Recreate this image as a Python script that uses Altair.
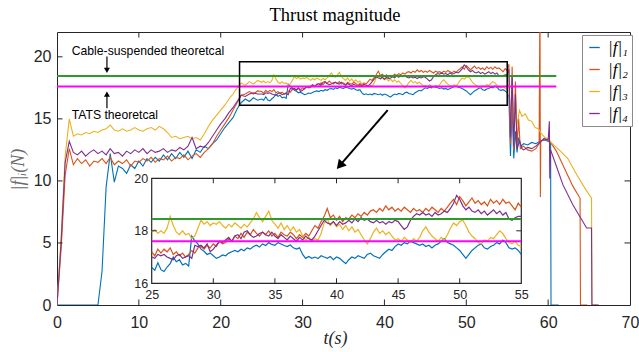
import altair as alt
import pandas as pd

# ---------------- data ----------------
SERIES = ["|f|₁", "|f|₂", "|f|₃", "|f|₄"]
COLORS = ["#0072BD", "#D95319", "#EDB120", "#7E2F8E"]

T_EARLY = [i * 0.5 for i in range(50)]          # 0 .. 24.5 s
T_MID = [25 + i * 0.25 for i in range(121)]      # 25 .. 55 s

F1_EARLY = [0, 0, 0, 0, 0, 0, 0, 0, 0, 0, 0,
            2.7, 9.5, 12.2, 9.9, 11.2, 11.0, 10.6, 11.3, 11.0, 11.6,
            11.2, 11.8, 11.5, 11.9, 11.6, 12.1, 11.7, 12.2, 11.8, 12.3,
            11.9, 12.4, 11.8, 12.5, 12.3, 12.8, 12.6, 13.0, 13.3, 13.8,
            14.3, 14.7, 15.1, 15.8, 16.3, 16.6, 16.4, 16.7, 16.5]
F2_EARLY = [0, 4.5, 10.5, 12.6, 11.3, 11.8, 11.4, 11.7, 11.2, 11.6,
            11.5, 11.8, 11.4, 11.9, 11.3, 11.6, 11.4, 11.7, 11.2, 11.6,
            11.5, 11.8, 11.6, 11.9, 11.5, 11.8, 11.7, 12.0, 11.6, 11.9,
            11.8, 12.1, 11.7, 12.0, 12.2, 11.9, 12.3, 12.6, 13.0, 13.6,
            14.1, 14.6, 15.1, 15.7, 16.3, 16.9, 17.0, 17.2, 17.0, 17.25]
F3_EARLY = [0, 5.5, 12.0, 15.0, 13.6, 13.8, 13.7, 13.9, 13.8, 14.0,
            13.9, 14.1, 14.2, 14.5, 14.1, 14.0, 14.2, 14.0, 14.1, 14.3,
            14.1, 14.0, 14.2, 14.3, 14.1, 14.4, 14.2, 13.9, 13.5, 13.6,
            13.4, 13.5, 13.6, 13.4, 13.5, 13.3, 13.8, 14.4, 14.9, 15.3,
            15.7, 16.1, 16.6, 17.0, 17.5, 17.9, 17.7, 18.0, 17.8, 18.1]
F4_EARLY = [0, 5.0, 11.5, 13.2, 12.3, 12.1, 12.4, 12.0, 12.3, 12.5,
            12.2, 12.4, 12.1, 12.6, 12.2, 12.3, 12.0, 12.4, 12.2, 12.5,
            12.3, 12.6, 12.2, 12.5, 12.3, 12.4, 12.6, 12.3, 12.5, 12.4,
            12.7, 12.5, 12.8, 13.5, 12.6, 12.8, 12.7, 13.1, 13.6, 14.1,
            14.6, 15.0, 15.5, 15.9, 16.4, 16.9, 16.8, 17.0, 17.1, 17.0]

F1_MID = [16.60, 16.50, 16.78, 16.52, 16.45, 16.62, 16.75, 17.00,
          16.82, 16.90, 16.70, 16.76, 16.66, 17.80, 17.62, 17.50,
          17.30, 17.22, 17.10, 17.15, 17.05, 16.95, 17.00, 17.08,
          17.05, 17.15, 17.20, 17.25, 17.20, 17.30, 17.24, 17.35,
          17.30, 17.40, 17.45, 17.38, 17.50, 17.44, 17.55, 17.48,
          17.45, 17.55, 17.50, 17.44, 17.40, 17.46, 17.35, 17.30,
          17.35, 17.10, 16.95, 17.02, 16.95, 17.00, 16.94, 17.05,
          17.00, 16.95, 17.02, 16.90, 17.00, 16.95, 16.85, 16.75,
          16.90, 17.00, 16.95, 17.05, 17.00, 16.95, 17.10, 17.15,
          17.05, 17.00, 16.95, 17.10, 17.20, 17.30, 17.25, 17.40,
          17.50, 17.45, 17.55, 17.50, 17.60, 17.55, 17.50, 17.45,
          17.50, 17.40, 17.45, 17.35, 17.45, 17.50, 17.60, 17.70,
          17.55, 17.50, 17.45, 17.35, 17.25, 17.10, 16.95, 17.10,
          17.25, 17.35, 17.45, 17.50, 17.35, 17.30, 17.40, 17.45,
          17.55, 17.50, 17.65, 17.55, 17.35, 17.30, 17.35, 17.25,
          17.10]
F2_MID = [17.20, 17.05, 17.30, 17.15, 17.30, 17.20, 17.35, 17.10,
          17.20, 17.05, 17.15, 17.00, 17.10, 17.25, 17.15, 17.35,
          17.40, 17.30, 17.45, 17.35, 17.50, 17.40, 17.60, 17.50,
          17.55, 17.70, 17.60, 17.80, 17.70, 17.90, 17.75, 17.95,
          17.85, 18.05, 17.90, 17.80, 17.95, 17.85, 18.00, 17.80,
          17.90, 17.75, 17.95, 17.85, 17.80, 17.95, 17.85, 17.70,
          17.85, 17.75, 17.90, 17.80, 18.00, 18.20, 18.10, 18.35,
          18.55, 18.85, 18.50, 18.60, 18.40, 18.55, 18.35, 18.50,
          18.45, 18.60, 18.50, 18.65, 18.55, 18.70, 18.60, 18.75,
          18.80, 18.70, 18.85, 18.75, 18.95, 18.80, 18.90, 18.75,
          18.85, 18.75, 18.90, 18.80, 18.70, 18.85, 18.75, 18.80,
          18.70, 18.85, 18.75, 18.90, 18.80, 18.70, 18.85, 18.75,
          18.90, 19.05, 19.20, 19.00, 19.30, 19.15, 18.95, 19.10,
          19.25, 19.05, 19.15, 19.00, 19.10, 18.95, 19.20, 19.05,
          19.15, 19.00, 19.20, 19.05, 19.10, 18.95, 18.80, 19.05,
          18.90]
F3_MID = [17.95, 18.05, 17.90, 18.00, 17.90, 18.10, 18.55, 18.20,
          17.95, 17.85, 18.00, 17.85, 17.90, 17.70, 17.80, 18.10,
          18.40, 18.25, 18.35, 18.20, 18.30, 18.25, 18.35, 18.20,
          18.10, 18.25, 18.15, 18.30, 18.20, 18.10, 18.25, 18.15,
          18.30, 18.45, 18.70, 18.50, 18.35, 18.55, 18.75, 18.40,
          18.25, 18.10, 18.30, 18.05, 18.20, 18.00, 18.15, 17.95,
          18.05, 17.80, 17.65, 17.75, 17.60, 17.70, 17.65, 17.90,
          18.30, 18.45, 18.20, 18.35, 18.15, 18.25, 18.05, 18.20,
          18.00, 18.15, 17.95, 18.05, 17.85, 17.65, 17.50, 17.70,
          17.95, 18.10, 17.90, 18.00, 17.85, 17.95, 17.80, 17.65,
          17.70, 17.60, 17.75, 17.65, 17.55, 17.70, 17.60, 17.75,
          18.00, 18.15, 17.95, 17.80, 17.70, 17.60, 17.75, 17.65,
          17.85, 18.10, 18.30, 18.20, 18.35, 18.40, 18.20, 17.95,
          17.80, 17.70, 17.55, 17.50, 17.65, 17.60, 17.75, 17.70,
          17.85, 18.00, 17.90, 17.70, 17.55, 17.50, 17.60, 17.45,
          17.40]
F4_MID = [17.00, 16.95, 17.10, 17.05, 17.10, 17.00, 16.95, 16.90,
          17.05, 17.10, 16.95, 17.00, 17.05, 16.95, 17.45, 17.40,
          17.45, 17.35, 17.50, 17.20, 17.30, 17.45, 17.60, 17.55,
          17.65, 17.75, 17.60, 17.80, 17.85, 17.70, 17.95, 18.00,
          17.85, 17.75, 17.80, 17.90, 17.95, 17.85, 17.80, 17.95,
          17.80, 17.70, 17.85, 17.75, 17.65, 17.80, 17.70, 17.60,
          17.75, 17.65, 17.80, 17.70, 17.65, 17.80, 18.00, 18.20,
          18.40, 18.30, 18.25, 18.35, 18.20, 18.35, 18.25, 18.30,
          18.40, 18.30, 18.45, 18.35, 18.50, 18.40, 18.45, 18.35,
          18.30, 18.40, 18.30, 18.35, 18.25, 18.35, 18.30, 18.40,
          18.35, 18.20, 18.05, 18.15, 18.40, 18.55, 18.65, 18.60,
          18.70, 18.60, 18.65, 18.55, 18.70, 18.60, 18.65, 18.75,
          18.70, 18.85, 19.05, 19.35, 19.20, 18.95, 18.80, 18.90,
          18.75, 18.70, 18.80, 18.65, 18.75, 18.60, 18.70, 18.80,
          18.65, 18.75, 18.60, 18.70, 18.45, 18.40, 18.50, 18.55,
          18.55]

F1_TAIL_T = [55.2, 55.4, 55.6, 55.8, 56.0, 56.2, 56.4, 56.7, 57.0, 57.5, 58.0,
             58.5, 59.0, 59.5, 60.0, 60.3, 60.35, 61.3]
F1_TAIL = [16.8, 12.0, 16.2, 11.8, 14.0, 12.3, 13.5, 12.8, 13.0, 12.9, 13.1,
           13.0, 13.2, 13.3, 13.2, 13.0, 0, 0]
F2_TAIL_T = [55.2, 55.4, 55.6, 55.8, 56.0, 56.2, 56.4, 56.6, 57.0, 57.5, 58.0,
             58.5, 58.9, 59.0, 59.05, 59.1, 59.5, 60.0, 60.4, 61.0, 62.0, 63.0,
             63.9, 63.95, 64.8]
F2_TAIL = [19.4, 13.0, 19.2, 12.5, 18.0, 12.8, 15.0, 12.6, 12.8, 12.5, 12.4,
           12.6, 13.0, 25.0, 8.7, 13.2, 13.4, 13.3, 13.0, 12.4, 11.0, 9.6,
           8.6, 0, 0]
F3_TAIL_T = [55.2, 55.4, 55.6, 55.8, 56.0, 56.2, 56.5, 56.8, 57.2, 57.6, 58.0,
             58.4, 58.8, 59.2, 59.6, 60.0, 60.5, 61.5, 62.4, 63.5, 64.5, 65.3,
             65.35, 66.0]
F3_TAIL = [17.8, 14.0, 17.5, 13.5, 16.5, 14.5, 15.7, 15.2, 15.4, 14.9, 14.8,
           14.3, 14.2, 13.8, 13.5, 13.4, 13.0, 12.4, 11.8, 10.5, 9.4, 8.6,
           0, 0]
F4_TAIL_T = [55.2, 55.4, 55.6, 55.8, 56.0, 56.2, 56.5, 56.8, 57.0, 57.5, 58.0,
             58.5, 59.0, 59.5, 60.0, 60.15, 60.2, 60.3, 61.0, 61.8, 63.0, 64.7,
             65.3, 65.35, 66.2]
F4_TAIL = [19.0, 13.5, 18.5, 12.8, 17.0, 12.6, 13.2, 12.6, 12.5, 12.7, 12.6,
           12.8, 13.1, 13.4, 13.3, 14.8, 10.2, 12.5, 11.2, 9.7, 8.1, 6.2,
           6.2, 0, 0]

REF_NAMES = ["Cable-suspended theoretcal", "TATS theoretcal"]
REF_Y = [18.45, 17.6]
REF_COLORS = ["#2E9A2E", "#FF00FF"]
REF_X = [0, 61]

ZOOM_X = [22.3, 55.0]
ZOOM_Y = [16.1, 19.6]
INSET_X = [25, 55]
INSET_Y = [16, 20]

MAIN_XTICKS = [0, 10, 20, 30, 40, 50, 60, 70]
MAIN_YTICKS = [0, 5, 10, 15, 20]
INSET_XTICKS = [25, 30, 35, 40, 45, 50, 55]
INSET_YTICKS = [16, 18, 20]

ANN_TEXT = ["Cable-suspended theoretcal", "TATS theoretcal"]
ANN_X = [1.8, 1.8]
ANN_Y = [20.48, 15.32]
ANN_ARROW_X = 6.1
CABLE_ARROW_Y = [20.02, 18.91]
TATS_ARROW_Y = [15.86, 17.0]
BIG_ARROW_X = [40.4, 34.67]
BIG_ARROW_Y = [15.7, 11.33]

# ---------------- build table ----------------
rows = []
for name, early, mid, tt, tv in [
    (SERIES[0], F1_EARLY, F1_MID, F1_TAIL_T, F1_TAIL),
    (SERIES[1], F2_EARLY, F2_MID, F2_TAIL_T, F2_TAIL),
    (SERIES[2], F3_EARLY, F3_MID, F3_TAIL_T, F3_TAIL),
    (SERIES[3], F4_EARLY, F4_MID, F4_TAIL_T, F4_TAIL),
]:
    for t, v in zip(T_EARLY, early):
        rows.append({"s": name, "t": t, "v": v})
    for t, v in zip(T_MID, mid):
        rows.append({"s": name, "t": t, "v": v})
    for t, v in zip(tt, tv):
        rows.append({"s": name, "t": t, "v": v})
df = pd.DataFrame(rows)
df_mid = df[(df.t >= 25) & (df.t <= 55)]

# ---------------- layout ----------------
W, H = 573, 273
AX = "#262626"
SANS = "Liberation Sans"
SERIF = "Liberation Serif"
IN_L, IN_R, IN_T, IN_B = 94.7, 464.3, 146.3, 251.3

xs_main = alt.Scale(domain=[0, 70], nice=False, zero=False)
ys_main = alt.Scale(domain=[0, 22], nice=False, zero=False)
xs_in = alt.Scale(domain=[25, 55], range=[IN_L, IN_R], nice=False, zero=False)
ys_in = alt.Scale(domain=[16, 20], range=[IN_B, IN_T], nice=False, zero=False)

color = alt.Color(
    "s:N",
    scale=alt.Scale(domain=SERIES, range=COLORS),
    legend=alt.Legend(
        title=None, orient="none", legendX=525, legendY=3, direction="vertical",
        fillColor="white", strokeColor="#8c8c8c", padding=4,
        symbolType="stroke", symbolSize=110, symbolStrokeWidth=1.3,
        labelFont=SERIF, labelFontSize=17, labelFontStyle="italic",
        labelColor="#000000", rowPadding=4, labelOffset=5,
    ),
)

main_lines = alt.Chart(df).mark_line(clip=True, strokeWidth=1.1).encode(
    x=alt.X("t:Q", scale=xs_main, axis=alt.Axis(
        values=MAIN_XTICKS, ticks=False, domain=False, grid=False,
        labelFont=SANS, labelFontSize=16, labelColor=AX, labelPadding=9,
        labelFlush=False, labelOverlap=False,
        title="t(s)", titleFont=SERIF, titleFontSize=18, titleFontStyle="italic",
        titleFontWeight="normal", titleColor=AX, titleX=278, titleY=33,
        titleBaseline="middle", titleAlign="center")),
    y=alt.Y("v:Q", scale=ys_main, axis=alt.Axis(
        values=MAIN_YTICKS, ticks=False, domain=False, grid=False,
        labelFont=SANS, labelFontSize=16, labelColor=AX, labelPadding=6,
        labelOverlap=False,
        title="|f|ᵢ(N)", titleFont=SERIF, titleFontSize=18, titleFontStyle="italic",
        titleFontWeight="normal", titleColor="#6a6a6a", titleAngle=270,
        titleX=-39, titleY=137, titleBaseline="middle", titleAlign="center")),
    color=color,
)

ref_df = pd.DataFrame({"name": REF_NAMES, "y": REF_Y, "x1": [REF_X[0]] * 2, "x2": [REF_X[1]] * 2})
ref_layers = []
ref_in_layers = []
for nm, col in zip(REF_NAMES, REF_COLORS):
    ref_layers.append(
        alt.Chart(ref_df).transform_filter(alt.datum.name == nm)
        .mark_rule(color=col, strokeWidth=2)
        .encode(x=alt.X("x1:Q", scale=xs_main, axis=None), x2="x2:Q",
                y=alt.Y("y:Q", scale=ys_main, axis=None))
    )
    ref_in_layers.append(
        alt.Chart(ref_df).transform_filter(alt.datum.name == nm)
        .transform_calculate(a=str(INSET_X[0]), b=str(INSET_X[1]))
        .mark_rule(color=col, strokeWidth=2)
        .encode(x=alt.X("a:Q", scale=xs_in, axis=None), x2="b:Q",
                y=alt.Y("y:Q", scale=ys_in, axis=None))
    )

zoom_box = alt.Chart(pd.DataFrame({"x1": [ZOOM_X[0]], "x2": [ZOOM_X[1]],
                                    "y1": [ZOOM_Y[0]], "y2": [ZOOM_Y[1]]})).mark_rect(
    fillOpacity=0, stroke="black", strokeWidth=1.5).encode(
    x=alt.X("x1:Q", scale=xs_main, axis=None), x2="x2:Q",
    y=alt.Y("y1:Q", scale=ys_main, axis=None), y2="y2:Q")

ann_text = alt.Chart(pd.DataFrame({"txt": ANN_TEXT, "x": ANN_X, "y": ANN_Y})).mark_text(
    align="left", baseline="middle", font=SANS, fontSize=12.2, color="black").encode(
    x=alt.X("x:Q", scale=xs_main, axis=None), y=alt.Y("y:Q", scale=ys_main, axis=None),
    text="txt:N")

small_arrows = alt.Chart(pd.DataFrame({
    "x": [ANN_ARROW_X, ANN_ARROW_X],
    "y1": [CABLE_ARROW_Y[0], TATS_ARROW_Y[0]],
    "y2": [CABLE_ARROW_Y[1], TATS_ARROW_Y[1]]})).mark_rule(color="black", strokeWidth=1.2).encode(
    x=alt.X("x:Q", scale=xs_main, axis=None),
    y=alt.Y("y1:Q", scale=ys_main, axis=None), y2="y2:Q")
head_down = alt.Chart(pd.DataFrame({"x": [ANN_ARROW_X], "y": [CABLE_ARROW_Y[1]]})).mark_point(
    shape="triangle-down", filled=True, color="black", size=36, opacity=1).encode(
    x=alt.X("x:Q", scale=xs_main, axis=None), y=alt.Y("y:Q", scale=ys_main, axis=None))
head_up = alt.Chart(pd.DataFrame({"x": [ANN_ARROW_X], "y": [TATS_ARROW_Y[1]]})).mark_point(
    shape="triangle-up", filled=True, color="black", size=36, opacity=1).encode(
    x=alt.X("x:Q", scale=xs_main, axis=None), y=alt.Y("y:Q", scale=ys_main, axis=None))

big_arrow = alt.Chart(pd.DataFrame({"x1": [BIG_ARROW_X[0]], "x2": [BIG_ARROW_X[1]],
                                     "y1": [BIG_ARROW_Y[0]], "y2": [BIG_ARROW_Y[1]]})).mark_rule(
    color="black", strokeWidth=2).encode(
    x=alt.X("x1:Q", scale=xs_main, axis=None), x2="x2:Q",
    y=alt.Y("y1:Q", scale=ys_main, axis=None), y2="y2:Q")
big_head = alt.Chart(pd.DataFrame({"x": [BIG_ARROW_X[1]], "y": [BIG_ARROW_Y[1]]})).mark_point(
    shape="triangle", filled=True, color="black", size=110, angle=221, opacity=1).encode(
    x=alt.X("x:Q", scale=xs_main, axis=None), y=alt.Y("y:Q", scale=ys_main, axis=None))


def xticks(vals, scale, y1, y2):
    return alt.Chart(pd.DataFrame({"v": vals})).mark_rule(color=AX, strokeWidth=1).encode(
        x=alt.X("v:Q", scale=scale, axis=None), y=alt.value(y1), y2=alt.value(y2))


def yticks(vals, scale, x1, x2):
    return alt.Chart(pd.DataFrame({"v": vals})).mark_rule(color=AX, strokeWidth=1).encode(
        y=alt.Y("v:Q", scale=scale, axis=None), x=alt.value(x1), x2=alt.value(x2))


main_ticks = [
    xticks(MAIN_XTICKS[1:-1], xs_main, H, H - 5.5),
    xticks(MAIN_XTICKS[1:-1], xs_main, 0, 5.5),
    yticks(MAIN_YTICKS[1:], ys_main, 0, 5.5),
    yticks(MAIN_YTICKS[1:], ys_main, W, W - 5.5),
]

inset_bg = alt.Chart(pd.DataFrame({"x1": [INSET_X[0]], "x2": [INSET_X[1]],
                                    "y1": [INSET_Y[0]], "y2": [INSET_Y[1]]})).mark_rect(
    fill="white", stroke=AX, strokeWidth=1.2).encode(
    x=alt.X("x1:Q", scale=xs_in, axis=None), x2="x2:Q",
    y=alt.Y("y1:Q", scale=ys_in, axis=None), y2="y2:Q")

inset_lines = alt.Chart(df_mid).mark_line(strokeWidth=1.2).encode(
    x=alt.X("t:Q", scale=xs_in, axis=alt.Axis(
        orient="bottom", offset=-(H - IN_B), values=INSET_XTICKS, ticks=False,
        domain=False, grid=False, labelFont=SANS, labelFontSize=12.5, labelColor=AX,
        labelPadding=5, labelFlush=False, labelOverlap=False, title="")),
    y=alt.Y("v:Q", scale=ys_in, axis=alt.Axis(
        orient="left", offset=-IN_L, values=INSET_YTICKS, ticks=False,
        domain=False, grid=False, labelFont=SANS, labelFontSize=12.5, labelColor=AX,
        labelPadding=4, labelOverlap=False, title="")),
    color=color,
)

inset_ticks = [
    xticks(INSET_XTICKS[1:-1], xs_in, IN_B, IN_B - 5),
    xticks(INSET_XTICKS[1:-1], xs_in, IN_T, IN_T + 5),
    yticks(INSET_YTICKS[1:-1], ys_in, IN_L, IN_L + 5),
    yticks(INSET_YTICKS[1:-1], ys_in, IN_R, IN_R - 5),
]

title = alt.Chart(pd.DataFrame({"s": ["Thrust magnitude"]})).mark_text(
    font=SERIF, fontSize=18.5, color="black", baseline="middle", align="center").encode(
    x=alt.value(278), y=alt.value(-17), text="s:N")

chart = alt.layer(
    main_lines, *ref_layers, zoom_box, ann_text, small_arrows, head_down, head_up,
    big_arrow, big_head, *main_ticks,
    inset_bg, inset_lines, *ref_in_layers, *inset_ticks, title,
).resolve_scale(x="independent", y="independent").properties(
    width=W, height=H,
    autosize=alt.AutoSizeParams(type="none"),
    padding={"left": 57, "top": 32, "right": 9, "bottom": 47},
).configure_view(stroke=AX, strokeWidth=1)

chart.save("out.html", embed_options={"renderer": "svg", "actions": False})
